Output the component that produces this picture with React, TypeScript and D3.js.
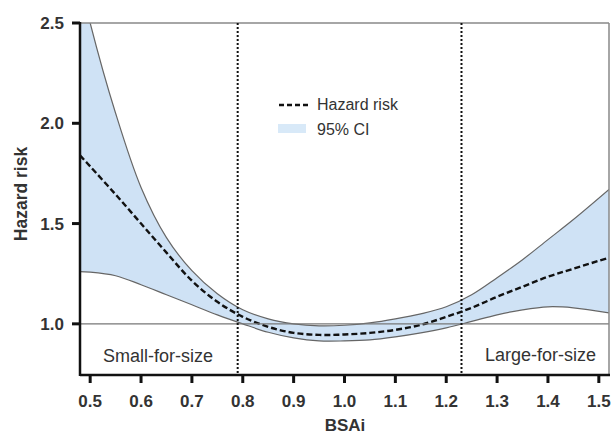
import React from 'react';
import * as d3 from 'd3';

// BSAi grid and curve values
const bsai = [0.48, 0.5, 0.55, 0.6, 0.65, 0.7, 0.75, 0.8, 0.85, 0.9, 0.95, 1.0, 1.05, 1.1, 1.15, 1.2, 1.25, 1.3, 1.35, 1.4, 1.45, 1.52];
const hazard = [1.84, 1.785, 1.645, 1.5, 1.355, 1.215, 1.11, 1.035, 0.985, 0.955, 0.945, 0.947, 0.955, 0.97, 0.995, 1.035, 1.08, 1.135, 1.185, 1.235, 1.275, 1.33];
const upper = [2.72, 2.5, 2.05, 1.68, 1.43, 1.265, 1.15, 1.07, 1.025, 1.0, 0.99, 0.993, 1.005, 1.025, 1.05, 1.085, 1.145, 1.23, 1.32, 1.42, 1.52, 1.67];
const lower = [1.26, 1.258, 1.24, 1.195, 1.145, 1.095, 1.045, 1.0, 0.958, 0.93, 0.915, 0.915, 0.92, 0.935, 0.955, 0.98, 1.012, 1.045, 1.07, 1.085, 1.08, 1.055];

const xTicks = [0.5, 0.6, 0.7, 0.8, 0.9, 1.0, 1.1, 1.2, 1.3, 1.4, 1.5];
const yTicks = [1.0, 1.5, 2.0, 2.5];
const cutoffs = [0.79, 1.23];

const W = 612;
const H = 434;
const m = { left: 80, right: 3, top: 23, bottom: 59 };
const font = 'Liberation Sans, Arial, sans-serif';

export default function App() {
  const x = d3.scaleLinear().domain([0.48, 1.52]).range([m.left, W - m.right]);
  const y = d3.scaleLinear().domain([0.745, 2.5]).range([H - m.bottom, m.top]);

  const rows = bsai.map((b, i) => ({ b, h: hazard[i], u: upper[i], l: lower[i] }));
  const curve = d3.curveCatmullRom.alpha(0.5);

  const area = d3
    .area<any>()
    .x(d => x(d.b))
    .y0(d => y(d.l))
    .y1(d => y(d.u))
    .curve(curve);
  const line = (key: string) =>
    d3
      .line<any>()
      .x(d => x(d.b))
      .y(d => y(d[key]))
      .curve(curve)(rows) as string;

  const x0 = x(0.48);
  const x1 = x(1.52);
  const yTop = y(2.5);
  const yBot = y(0.745);

  return (
    <svg width={W} height={H} style={{ position: 'absolute', left: 0, top: 0, background: '#fff' }}>
      <defs>
        <clipPath id="plot">
          <rect x={x0} y={yTop} width={x1 - x0} height={yBot - yTop} />
        </clipPath>
      </defs>

      <g clipPath="url(#plot)">
        <path d={area(rows) as string} fill="#cfe2f5" />
        <path d={line('u')} fill="none" stroke="#666" strokeWidth={1.2} />
        <path d={line('l')} fill="none" stroke="#666" strokeWidth={1.2} />
        <path d={line('h')} fill="none" stroke="#111" strokeWidth={2.4} strokeDasharray="6,3" />
      </g>

      {/* reference line at 1.0 and frame */}
      <line x1={x0} x2={x1} y1={y(1)} y2={y(1)} stroke="#777" strokeWidth={1.2} />
      <line x1={x0} x2={x1} y1={yTop} y2={yTop} stroke="#888" strokeWidth={1.5} />
      <line x1={x1} x2={x1} y1={yTop} y2={yBot} stroke="#888" strokeWidth={1.5} />

      {cutoffs.map(c => (
        <line key={c} x1={x(c)} x2={x(c)} y1={yTop} y2={yBot} stroke="#111" strokeWidth={2} strokeDasharray="2,2" />
      ))}

      {/* axes */}
      <line x1={x0} x2={x0} y1={yTop - 1} y2={yBot + 1} stroke="#111" strokeWidth={2.5} />
      <line x1={x0} x2={x1 + 1} y1={yBot} y2={yBot} stroke="#111" strokeWidth={2.5} />

      {yTicks.map(t => (
        <g key={t}>
          <line x1={x0 - 8} x2={x0} y1={y(t)} y2={y(t)} stroke="#111" strokeWidth={3} />
          <text x={x0 - 16} y={y(t) + 6} textAnchor="end" fontFamily={font} fontWeight="bold" fontSize={17} fill="#333">
            {t.toFixed(1)}
          </text>
        </g>
      ))}
      {xTicks.map(t => (
        <g key={t}>
          <line x1={x(t)} x2={x(t)} y1={yBot} y2={yBot + 8} stroke="#111" strokeWidth={3} />
          <text x={x(t)} y={yBot + 32} textAnchor="middle" fontFamily={font} fontWeight="bold" fontSize={17} fill="#333">
            {t.toFixed(1)}
          </text>
        </g>
      ))}

      <text x={345} y={431} textAnchor="middle" fontFamily={font} fontWeight="bold" fontSize={17} fill="#333">
        BSAi
      </text>
      <text
        transform={`translate(27, 194) rotate(-90)`}
        textAnchor="middle"
        fontFamily={font}
        fontWeight="bold"
        fontSize={17.5}
        fill="#333"
      >
        Hazard risk
      </text>

      <text x={103} y={362} fontFamily={font} fontSize={18} fill="#333">
        Small-for-size
      </text>
      <text x={x1 - 13} y={361} textAnchor="end" fontFamily={font} fontSize={18} fill="#333">
        Large-for-size
      </text>

      {/* legend */}
      <line x1={279} x2={310} y1={105} y2={105} stroke="#111" strokeWidth={2.5} strokeDasharray="5,3" />
      <text x={317} y={110} fontFamily={font} fontSize={16} fill="#333">
        Hazard risk
      </text>
      <rect x={278} y={124} width={28} height={9} fill="#d8e9f8" />
      <text x={317} y={135} fontFamily={font} fontSize={16} fill="#333">
        95% CI
      </text>
    </svg>
  );
}
